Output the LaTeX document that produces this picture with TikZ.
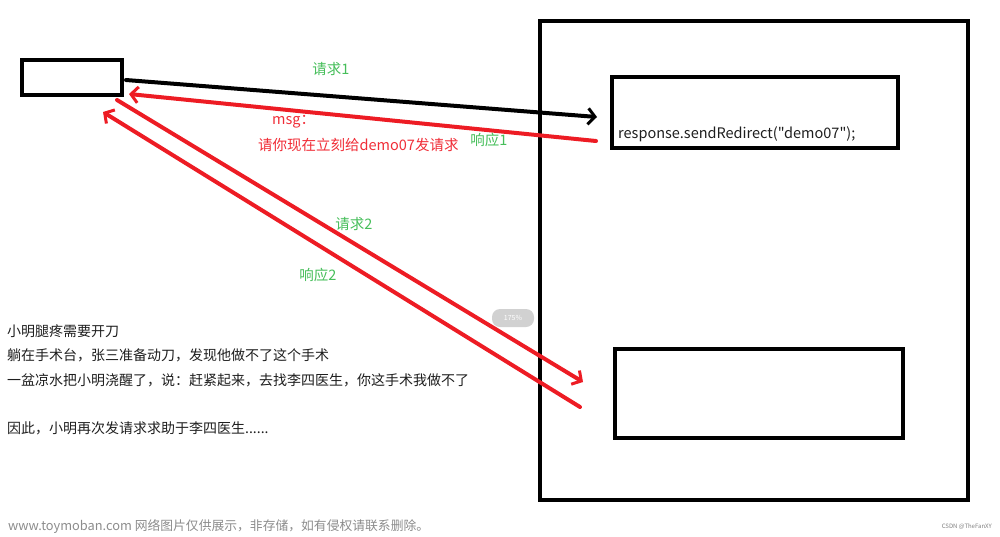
\documentclass[tikz,border=0pt]{standalone}
\usepackage{fontspec}
\newfontfamily\cjk{Noto Sans CJK SC}
\usetikzlibrary{arrows.meta}
\definecolor{paintred}{RGB}{237,28,36}
\definecolor{lblgreen}{RGB}{70,190,90}
\definecolor{lblred}{RGB}{240,45,55}
\definecolor{txtdark}{RGB}{30,30,30}
\begin{document}
\begin{tikzpicture}[x=1pt,y=-1pt,
  box/.style={draw=black,line width=4.5pt,rectangle,inner sep=0pt},
  req/.style={line width=4pt,line cap=round,-{Straight Barb[length=7pt,width=16pt,line width=3pt]}},
  lbl/.style={font=\cjk\fontsize{14.5}{16}\selectfont,inner sep=0pt},
  story/.style={font=\cjk\fontsize{14}{16}\selectfont,text=txtdark,anchor=west,inner sep=0pt}]
\useasboundingbox (0,0) rectangle (1000,536);
% boxes
\node[box,minimum width=100pt,minimum height=35pt] (client) at (72,77.5) {};
\node[box,minimum width=428pt,minimum height=479pt] (server) at (754,260.5) {};
\node[box,minimum width=286pt,minimum height=71pt] (demo06) at (755,112.5) {};
\node[box,minimum width=288pt,minimum height=89pt] (demo07) at (759,393.5) {};
% arrow ends
\coordinate (c1) at (126,80);
\coordinate (s1) at (597,117);
\coordinate (s1r) at (596,141);
\coordinate (c1r) at (129,94);
\coordinate (c2) at (117,100);
\coordinate (s2) at (583,382);
\coordinate (s2r) at (580,407);
\coordinate (c2r) at (103,112);
\draw[req,draw=black] (c1) -- (s1);
\draw[req,draw=paintred] (s1r) -- (c1r);
\draw[req,draw=paintred] (c2) -- (s2);
\draw[req,draw=paintred] (s2r) -- (c2r);
% labels
\node[lbl,text=lblgreen] (q1) at (331,69) {请求1};
\node[lbl,text=lblred,anchor=west] (msg) at (272,122) {msg：};
\node[lbl,text=lblred,anchor=west] (msgtxt) at (258,145) {请你现在立刻给demo07发请求};
\node[lbl,text=lblgreen] (r1) at (489,140) {响应1};
\node[lbl,text=lblgreen] (q2) at (354,224) {请求2};
\node[lbl,text=lblgreen] (r2) at (318,275) {响应2};
\node[lbl,text=txtdark,anchor=west] (code) at (618,134) {response.sendRedirect("demo07");};
% story
\node[story] (l1) at (7,331) {小明腿疼需要开刀};
\node[story] (l2) at (7,355) {躺在手术台，张三准备动刀，发现他做不了这个手术};
\node[story] (l3) at (7,380) {一盆凉水把小明浇醒了，说：赶紧起来，去找李四医生，你这手术我做不了};
\node[story] (l4) at (7,428) {因此，小明再次发请求求助于李四医生......};
% zoom badge
\node[fill=black!18,rounded corners=8pt,minimum width=42pt,minimum height=18pt,
  text=white,font=\cjk\fontsize{7}{8}\selectfont] (zoom) at (513,318) {175\%};
% footer
\node[font=\cjk\fontsize{12.8}{14}\selectfont,text=black!45,anchor=west,inner sep=0pt] (wm) at (8,527)
  {www.toymoban.com 网络图片仅供展示，非存储，如有侵权请联系删除。};
\node[font=\cjk\fontsize{6}{7}\selectfont,text=black!50,anchor=east,inner sep=0pt] (csdn) at (992,527)
  {CSDN @TheFanXY};
\end{tikzpicture}
\end{document}
